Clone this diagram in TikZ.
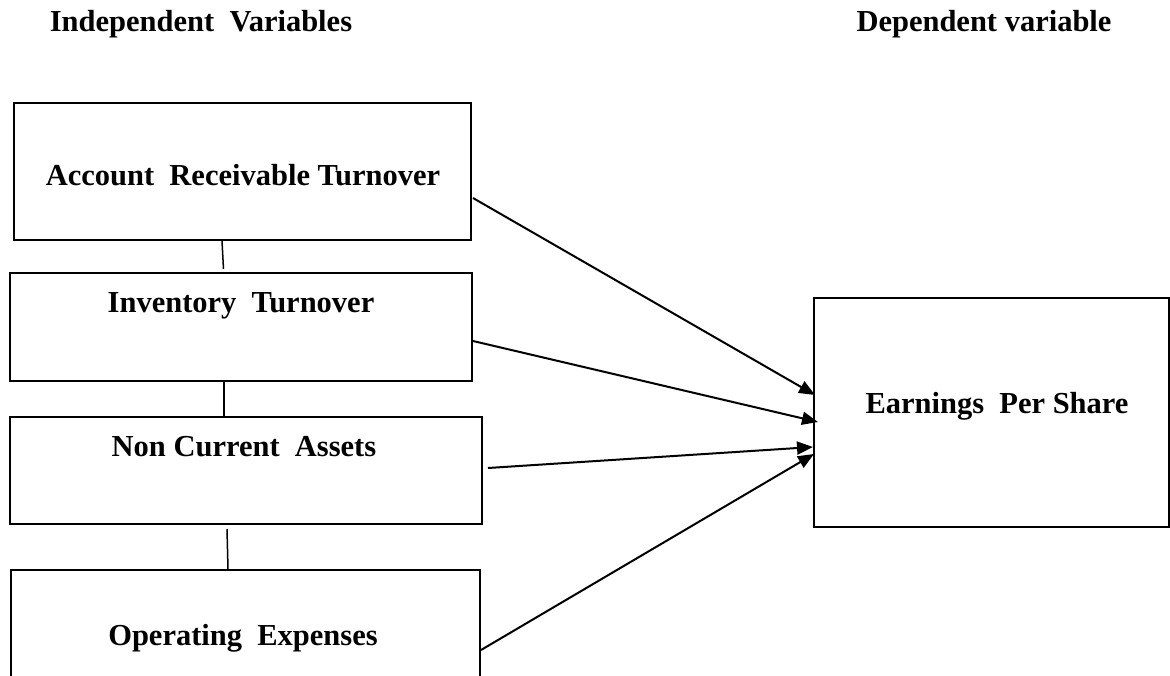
\documentclass[tikz,border=0pt]{standalone}
\usepackage{fontspec}
\setmainfont{Liberation Serif}
\usetikzlibrary{calc,arrows.meta}
\tikzset{
  varbox/.style={draw=black, line width=2pt, inner sep=0pt, rectangle},
  link/.style={draw=black, line width=1.5pt},
  effect/.style={draw=black, line width=2pt, -{Triangle[length=16pt,width=13pt]}},
  lab/.style={font=\fontsize{30.5}{34}\selectfont\bfseries, anchor=base, inner sep=0pt},
}

\begin{document}
\begin{tikzpicture}[x=1pt,y=-1pt]
  \useasboundingbox (0,0) rectangle (1170,675);
  % headings
  \node[lab] (indep) at (201,31) {Independent\ \ Variables};
  \node[lab] (dep) at (984,31) {Dependent variable};
  % independent variable boxes
  \node[varbox, minimum width=457pt, minimum height=137pt] (acc) at (242.5,171.5) {};
  \node[varbox, minimum width=462pt, minimum height=108pt] (inv) at (241,327) {};
  \node[varbox, minimum width=472pt, minimum height=107pt] (nca) at (246,470.5) {};
  \node[varbox, minimum width=469pt, minimum height=130pt] (opex) at (245.5,635) {};
  \node[lab] (acctxt) at (243,185) {Account\ \ Receivable Turnover};
  \node[lab] (invtxt) at (241,312) {Inventory\ \ Turnover};
  \node[lab] (ncatxt) at (244,456) {Non Current\ \ Assets};
  \node[lab] (opextxt) at (243,645) {Operating\ \ Expenses};
  % dependent variable box
  \node[varbox, minimum width=355pt, minimum height=229pt] (eps) at (991.5,412.5) {};
  \node[lab] (epstxt) at (997,413) {Earnings\ \ Per Share};
  % links down the left column
  \draw[link] ($(acc.south)+(-20.5,0)$) -- ($(inv.north)+(-17.5,-3)$);
  \draw[link] ($(inv.south)+(-17,0)$) -- ($(nca.north)+(-22,0)$);
  \draw[link] ($(nca.south)+(-19,4)$) -- ($(opex.north)+(-17.5,0)$);
  % arrow heads meet on the left side of eps
  \coordinate (in1) at ($(eps.west)+(2,-17.5)$);
  \coordinate (in2) at ($(eps.west)+(5,9.5)$);
  \coordinate (in3) at ($(eps.west)+(0,34.5)$);
  \coordinate (in4) at ($(eps.west)+(1,41.5)$);
  \draw[effect] ($(acc.east)+(1,26.5)$) -- (in1);
  \draw[effect] ($(inv.east)+(0,14)$) -- (in2);
  \draw[effect] ($(nca.east)+(5,-2.5)$) -- (in3);
  \draw[effect] ($(opex.east)+(0,15)$) -- (in4);
\end{tikzpicture}
\end{document}
